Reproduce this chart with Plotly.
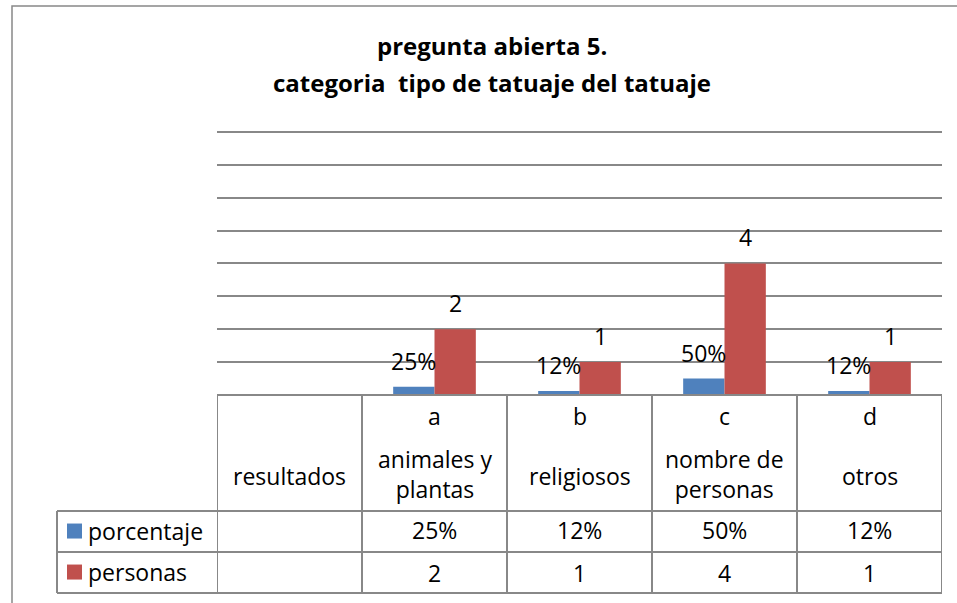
import plotly.graph_objects as go

# ---- data ----
letters = ["", "a", "b", "c", "d"]
names = ["resultados", "animales y<br>plantas", "religiosos", "nombre de<br>personas", "otros"]
porcentaje = [None, 0.25, 0.12, 0.50, 0.12]
personas = [None, 2, 1, 4, 1]
series_names = ["porcentaje", "personas"]
colors = ["#4F81BD", "#C0504D"]
title_lines = ["pregunta abierta 5.", "categoria  tipo de tatuaje del tatuaje"]

W, H = 957, 603
L_ref, R_ref, B_ref = 217, 942, 395
UNIT = 32.875          # px per y unit
YMAX = 8.15
T_ref = B_ref - YMAX * UNIT
FONT = "Open Sans"
GRID = "#888888"
FS = 23

def py(p):  # pixel y -> paper y
    return (B_ref - p) / (B_ref - T_ref)

def px(p):  # pixel x -> paper x
    return (p - L_ref) / (R_ref - L_ref)

cats = list(range(len(names)))

fig = go.Figure()
fig.add_trace(go.Bar(x=cats, y=porcentaje, name=series_names[0], marker_color=colors[0],
                     marker_line_width=0, hoverinfo="skip"))
fig.add_trace(go.Bar(x=cats, y=personas, name=series_names[1], marker_color=colors[1],
                     marker_line_width=0, hoverinfo="skip"))

ann = []
shapes = []
txt = dict(family=FONT, size=FS, color="#000")

# title
title_y = [46, 83]
title_fs = [24, 24]
for i, t in enumerate(title_lines):
    ann.append(dict(text=f"<b>{t}</b>", x=px(492), xref="paper", y=py(title_y[i]), yref="paper",
                    xanchor="center", yanchor="middle", showarrow=False,
                    font=dict(family=FONT, size=title_fs[i], color="#000")))

# data labels
for i in cats:
    if porcentaje[i] is not None:
        ann.append(dict(text=f"{round(porcentaje[i]*100)}%", x=i, xref="x", y=porcentaje[i], yref="y",
                        xshift=-21, yshift=26, yanchor="middle", showarrow=False, font=txt))
    if personas[i] is not None:
        ann.append(dict(text=f"{personas[i]}", x=i, xref="x", y=personas[i], yref="y",
                        xshift=21, yshift=26, yanchor="middle", showarrow=False, font=txt))

# table text
for i in cats:
    if letters[i]:
        ann.append(dict(text=letters[i], x=i, xref="x", y=py(416), yref="paper",
                        yanchor="middle", showarrow=False, font=txt))
    ann.append(dict(text=names[i], x=i, xref="x", y=py(474 if "<br>" in names[i] else 476), yref="paper",
                    yanchor="middle", showarrow=False, font=txt))
    if porcentaje[i] is not None:
        ann.append(dict(text=f"{round(porcentaje[i]*100)}%", x=i, xref="x", y=py(530), yref="paper",
                        yanchor="middle", showarrow=False, font=txt))
    if personas[i] is not None:
        ann.append(dict(text=f"{personas[i]}", x=i, xref="x", y=py(573), yref="paper",
                        yanchor="middle", showarrow=False, font=txt))

# legend keys in table
row_y = [531, 572]
for k in range(2):
    shapes.append(dict(type="rect", xref="paper", yref="paper", x0=px(67), x1=px(82),
                       y0=py(row_y[k] - 7.5), y1=py(row_y[k] + 7.5), fillcolor=colors[k], line_width=0))
    ann.append(dict(text=series_names[k], x=px(86), xref="paper", y=py(row_y[k]), yref="paper",
                    xanchor="left", yanchor="middle", showarrow=False, font=txt))

# table lines
line = dict(color=GRID, width=2)
for i in range(len(cats) + 1):
    shapes.append(dict(type="line", xref="x", yref="paper", x0=i - 0.5, x1=i - 0.5,
                       y0=py(395), y1=py(593), line=line))
for yy in [511, 552, 593]:
    shapes.append(dict(type="line", xref="paper", yref="paper", x0=px(57), x1=1,
                       y0=py(yy), y1=py(yy), line=line))
shapes.append(dict(type="line", xref="paper", yref="paper", x0=px(57), x1=px(57),
                   y0=py(511), y1=py(593), line=line))
shapes.append(dict(type="line", xref="paper", yref="paper", x0=0, x1=1,
                   y0=0, y1=0, line=line))
# outer chart frame
shapes.append(dict(type="rect", xref="paper", yref="paper", x0=px(12), x1=px(1200),
                   y0=py(900), y1=py(6), line=dict(color=GRID, width=1.5), fillcolor="rgba(0,0,0,0)"))

fig.update_layout(
    width=W, height=H,
    margin=dict(l=L_ref, r=(W - R_ref), t=T_ref, b=(H - B_ref), pad=0),
    paper_bgcolor="white", plot_bgcolor="white",
    barmode="group", bargap=0.43, bargroupgap=0,
    showlegend=False,
    xaxis=dict(range=[-0.5, len(cats) - 0.5], showticklabels=False, showgrid=False,
               zeroline=False, showline=False, ticks=""),
    yaxis=dict(range=[0, YMAX], dtick=1, showticklabels=False, showgrid=True, gridcolor=GRID,
               gridwidth=2, zeroline=False, showline=False, ticks=""),
    annotations=ann, shapes=shapes,
)

fig.write_html("out.html", config={"displayModeBar": False},
               post_script="document.body.style.margin='0';")
